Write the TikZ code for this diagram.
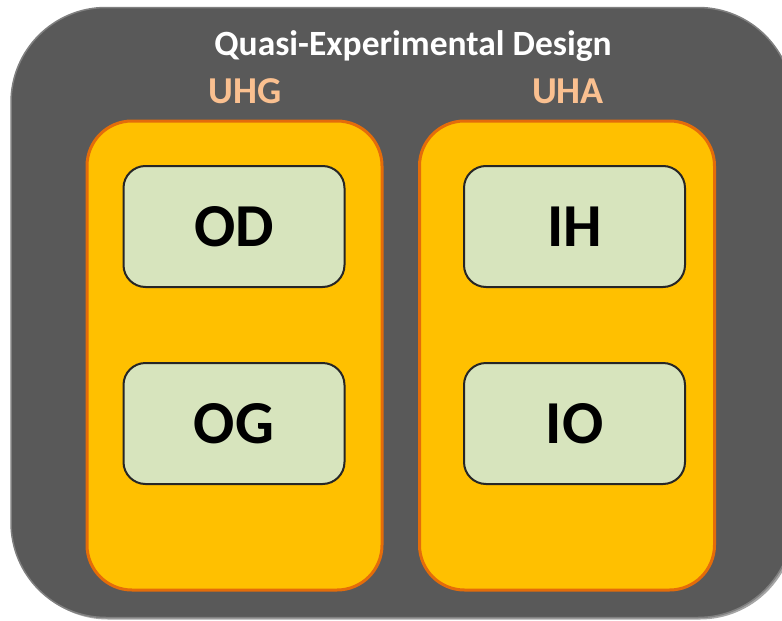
\documentclass[tikz,border=0pt]{standalone}
\usepackage{fontspec}
\setmainfont{Carlito}
\usetikzlibrary{shadows}
\definecolor{outerfill}{HTML}{595959}
\definecolor{outerline}{HTML}{808080}
\definecolor{gold}{HTML}{FFC000}
\definecolor{orangeline}{HTML}{E46C0A}
\definecolor{sage}{HTML}{D7E4BD}
\definecolor{darkline}{HTML}{262626}
\definecolor{peach}{HTML}{FAC090}
\tikzset{
  outerbox/.style={rectangle, rounded corners=95pt, fill=outerfill, draw=outerline, line width=1.5pt,
    minimum width=782pt, minimum height=610pt, inner sep=0pt,
    drop shadow={shadow xshift=2pt, shadow yshift=-2pt, opacity=0.35, fill=black}},
  groupbox/.style={rectangle, rounded corners=45pt, fill=gold, draw=orangeline, line width=3pt,
    minimum width=295pt, minimum height=469pt, inner sep=0pt},
  itembox/.style={rectangle, rounded corners=22pt, fill=sage, draw=darkline, line width=2pt,
    minimum width=221pt, minimum height=121pt, inner sep=0pt,
    font=\fontsize{61}{61}\selectfont\bfseries},
  titletext/.style={anchor=base, text=white, font=\fontsize{35.5}{35.5}\selectfont\bfseries},
  grouptext/.style={anchor=base, text=peach, font=\fontsize{38}{38}\selectfont\bfseries}
}
\begin{document}
\begin{tikzpicture}[x=1pt, y=-1pt]
\useasboundingbox (0,0) rectangle (782,621);
\clip (0,0) rectangle (782,621);
\node[outerbox] (design) at (402,312.5) {};
\node[titletext] (title) at (413,55) {Quasi-Experimental Design};
\node[grouptext] (uhglabel) at (245,103) {UHG};
\node[grouptext] (uhalabel) at (568,103) {UHA};
\node[groupbox] (uhg) at (234.5,355.5) {};
\node[groupbox] (uha) at (567,355.5) {};
\node[itembox] (od) at (234,226.5) {OD};
\node[itembox] (og) at (234,423.5) {OG};
\node[itembox] (ih) at (574.5,226.5) {IH};
\node[itembox] (io) at (574.5,423.5) {IO};
\end{tikzpicture}
\end{document}
